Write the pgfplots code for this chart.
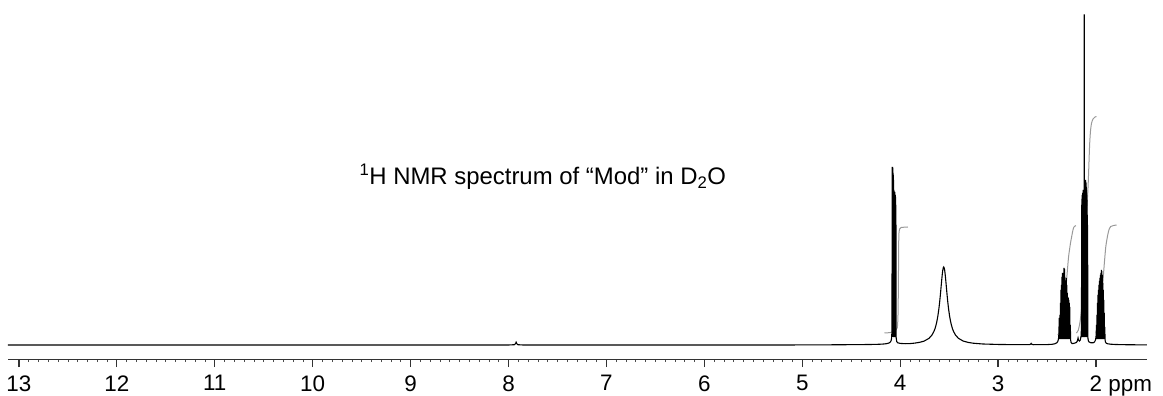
\documentclass[border=0pt]{standalone}
\usepackage{fontspec}
\setmainfont{Liberation Sans}
\usepackage{pgfplots}
\pgfplotsset{compat=1.18}
\begin{document}
\begin{tikzpicture}
\begin{axis}[
  at={(8bp,37bp)}, anchor=south west,
  scale only axis, width=1139bp, height=359bp,
  x dir=reverse, xmin=1.479, xmax=13.112, ymin=-14, ymax=345,
  axis y line=none, axis x line*=bottom,
  x axis line style={line width=0.9bp, black!80, -},
  xtick={2,3,4,5,6,7,8,9,10,11,12,13},
  xticklabels={2\rlap{\ ppm},3,4,5,6,7,8,9,10,11,12,13},
  minor x tick num=9,
  tick align=outside,
  major tick length=8bp, minor tick length=3bp,
  every major tick/.style={black!80, line width=1.2bp},
  every minor tick/.style={black!70, line width=0.7bp},
  /pgf/number format/assume math mode=true,
  xticklabel style={font=\fontsize{22.5}{24}\selectfont, text=black, yshift=-5bp},
  clip=false,
]
% integrals
\addplot[black!40, line width=1bp, smooth, tension=0.4] coordinates {
(4.16,12) (4.10,12.5) (4.06,14) (4.03,17) (4.022,30) (4.018,60) (4.015,100) (4.012,112) (4.005,116) (3.99,117.5) (3.92,118)};
\addplot[black!40, line width=1bp, smooth, tension=0.4] coordinates {
(2.39,10) (2.375,12) (2.36,15) (2.34,25) (2.32,42) (2.30,65) (2.28,88) (2.26,102) (2.245,110) (2.235,115) (2.225,118) (2.205,119.5)};
\addplot[black!40, line width=1bp, smooth, tension=0.4] coordinates {
(2.20,12) (2.18,15) (2.16,25) (2.14,45) (2.12,90) (2.10,125) (2.08,160) (2.065,200) (2.055,215) (2.045,222) (2.03,226) (2.01,228) (1.995,228.5)};
\addplot[black!40, line width=1bp, smooth, tension=0.4] coordinates {
(2.00,12) (1.98,16) (1.96,28) (1.94,48) (1.92,75) (1.90,98) (1.88,110) (1.865,116) (1.85,118.5) (1.82,119.5) (1.79,120)};
% spectrum
\addplot[black, line width=1.1bp] coordinates {
(13.112,0) (8.0,0) (7.94,0.3) (7.928,1.5) (7.922,2.8) (7.916,1.5) (7.905,0.3) (7.85,0) (5.2,0) (4.7,0.2) (4.4,0.4) (4.25,0.6) (4.18,0.9) (4.14,1.3) (4.115,2) (4.10,3) (4.092,4.5) (4.087,7) (4.084,14)
(4.083,40) (4.082,178) (4.081,8) (4.080,176) (4.079,35) (4.078,178) (4.077,10) (4.076,174) (4.075,40) (4.074,177) (4.073,8) (4.072,172) (4.071,35) (4.070,170) (4.069,10) (4.068,165) (4.067,40) (4.066,160) (4.065,8) (4.064,155) (4.063,35) (4.062,154) (4.061,10) (4.060,153) (4.059,40) (4.058,153) (4.057,8) (4.056,152) (4.055,35) (4.054,153) (4.053,10) (4.052,150) (4.051,30) (4.050,150) (4.049,8) (4.048,148) (4.047,30) (4.046,145) (4.045,8) (4.044,140) (4.043,20) (4.042,120) (4.041,8) (4.039,6) (4.035,3.5) (4.025,2.2) (4.00,1.6) (3.95,1.3)
(3.90,1.4) (3.85,1.9) (3.80,2.7) (3.755,3.9) (3.705,6.7) (3.675,10.0) (3.655,13.6) (3.645,16.1) (3.635,19.4) (3.625,23.5) (3.615,28.9) (3.605,35.8) (3.60,39.9) (3.595,44.4) (3.59,49.4) (3.585,54.7) (3.58,60.2) (3.575,65.6) (3.57,70.5) (3.565,74.5) (3.56,77.1) (3.555,78) (3.55,77.1) (3.545,74.5) (3.54,70.5) (3.535,65.6) (3.53,60.2) (3.525,54.7) (3.52,49.4) (3.515,44.4) (3.51,39.9) (3.505,35.8) (3.495,28.9) (3.485,23.5) (3.475,19.4) (3.465,16.1) (3.455,13.6) (3.435,10.0) (3.405,6.7) (3.355,3.9) (3.305,2.6) (3.255,1.8) (3.155,1.0) (3.0,0.55) (2.8,0.3) (2.68,0.3) (2.668,0.8) (2.662,1.6) (2.656,0.8) (2.64,0.3) (2.5,0.4) (2.45,0.7) (2.42,1.2) (2.40,2.2) (2.39,3.5) (2.383,6)
(2.378,12) (2.376,27) (2.374,6) (2.372,25) (2.370,8) (2.367,30) (2.365,6) (2.362,42) (2.360,15) (2.357,55) (2.355,6) (2.352,60) (2.350,20) (2.347,68) (2.345,6) (2.342,72) (2.340,25) (2.337,70) (2.335,6) (2.332,66) (2.330,22) (2.327,77) (2.325,6) (2.322,76) (2.320,20) (2.317,68) (2.315,6) (2.312,62) (2.310,15) (2.307,64) (2.305,6) (2.302,67) (2.300,10) (2.297,60) (2.295,6) (2.292,52) (2.290,8) (2.287,48) (2.285,6) (2.282,47) (2.280,12) (2.277,45) (2.275,6) (2.272,42) (2.270,8) (2.267,38) (2.265,6) (2.262,20) (2.259,5) (2.254,2.5) (2.245,1.5)
(2.235,1.5) (2.22,1.8) (2.20,2.5) (2.19,4) (2.183,7) (2.178,5) (2.17,4) (2.16,5) (2.152,9) (2.148,18)
(2.146,140) (2.145,8) (2.144,146) (2.143,45) (2.142,148) (2.141,8) (2.140,150) (2.139,45) (2.138,148) (2.137,8) (2.136,152) (2.135,50) (2.134,150) (2.133,8) (2.132,155) (2.131,50) (2.130,153) (2.129,8) (2.128,150) (2.127,40) (2.126,148) (2.125,8) (2.124,140) (2.123,50) (2.1215,120) (2.1205,330) (2.1195,330) (2.1185,120) (2.117,8) (2.116,160) (2.115,45) (2.114,163) (2.113,8) (2.112,165) (2.111,50) (2.110,165) (2.109,8) (2.108,164) (2.107,45) (2.106,165) (2.105,8) (2.104,163) (2.103,40) (2.102,162) (2.101,8) (2.100,160) (2.099,35) (2.098,158) (2.097,8) (2.096,155) (2.095,30) (2.094,150) (2.093,8) (2.092,145) (2.091,25) (2.090,140) (2.089,8) (2.088,130) (2.087,15) (2.086,120) (2.085,8) (2.084,80) (2.083,8) (2.081,6) (2.077,4) (2.07,3) (2.05,2.2) (2.03,2.2) (2.015,3) (2.005,5) (2.0,8)
(1.998,10) (1.995,20) (1.993,6) (1.990,30) (1.988,10) (1.985,42) (1.983,6) (1.980,50) (1.978,15) (1.975,55) (1.973,6) (1.970,60) (1.968,15) (1.965,64) (1.963,6) (1.960,67) (1.958,15) (1.955,70) (1.953,6) (1.950,72) (1.948,15) (1.945,75) (1.943,6) (1.940,74) (1.938,15) (1.935,70) (1.933,6) (1.930,62) (1.928,12) (1.925,55) (1.923,6) (1.920,45) (1.918,8) (1.915,32) (1.913,6) (1.910,18) (1.907,5) (1.903,3) (1.895,1.8) (1.88,1.2) (1.85,0.8) (1.8,0.5) (1.7,0.3) (1.6,0.2) (1.479,0.1)
};
\node[font=\fontsize{24}{26}\selectfont, inner sep=0pt] at (axis cs:7.65,168) {\textsuperscript{1}H NMR spectrum of “Mod” in D\textsubscript{2}O};
\end{axis}
\pgfresetboundingbox
\path[use as bounding box] (0,0) rectangle (1163bp,396bp);
\end{tikzpicture}
\end{document}
